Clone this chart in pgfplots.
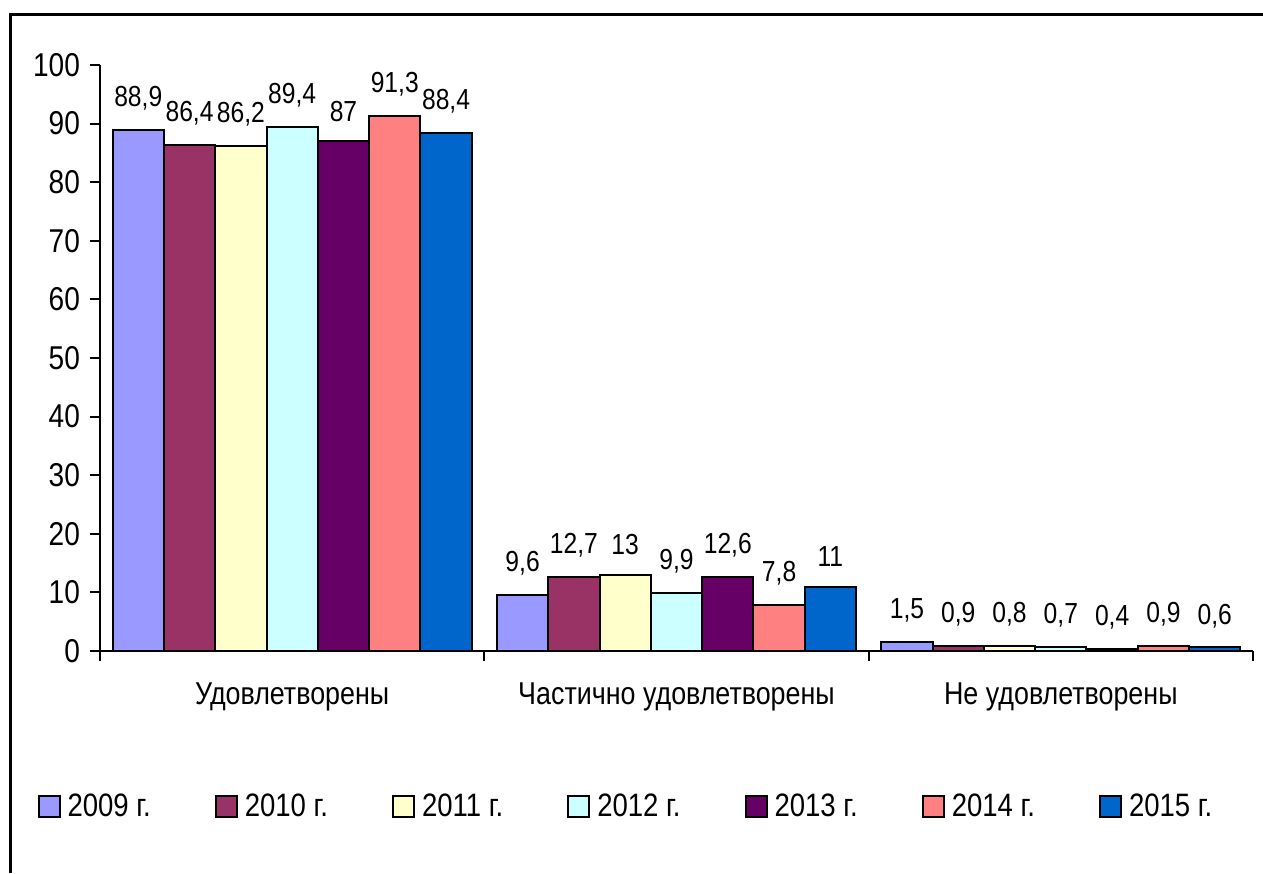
\documentclass[border=0pt]{standalone}
\usepackage{fontspec}
\setmainfont{Liberation Sans}[FakeStretch=0.85]
\usepackage{pgfplots}
\pgfplotsset{compat=1.18}
\definecolor{c1}{HTML}{9999FF}
\definecolor{c2}{HTML}{993366}
\definecolor{c3}{HTML}{FFFFCC}
\definecolor{c4}{HTML}{CCFFFF}
\definecolor{c5}{HTML}{660066}
\definecolor{c6}{HTML}{FF8080}
\definecolor{c7}{HTML}{0066CC}
\begin{document}
\begin{tikzpicture}[x=1pt,y=1pt]
\useasboundingbox (0,0) rectangle (631.5,436.5);
\draw[line width=1.5pt] (5,0) -- (5,429) -- (631.5,429);
\begin{axis}[
  at={(50pt,111pt)}, anchor=south west,
  scale only axis, width=576.5pt, height=293pt,
  ymin=0, ymax=100, ytick={0,10,...,100},
  xmin=-0.5, xmax=2.5,
  axis x line*=bottom, axis y line*=left,
  axis line style={line width=1pt},
  tick style={line width=1pt, black},
  tick align=outside, major tick length=5pt,
  /pgf/number format/assume math mode=true,
  /pgf/number format/use comma,
  /pgf/number format/fixed,
  /pgf/number format/precision=1,
  ybar=0pt, bar width=25.65pt,
  xtick={-0.5,0.5,1.5,2.5}, xticklabels={},
  extra x ticks={0,1,2},
  extra x tick labels={Удовлетворены, Частично удовлетворены, Не удовлетворены},
  extra x tick style={major tick length=0pt, xticklabel style={yshift=-12.5pt, font=\fontsize{15.8}{18}\selectfont}},
  yticklabel style={font=\fontsize{16.5}{19}\selectfont, xshift=-1.5pt},
  nodes near coords,
  every node near coord/.append style={font=\fontsize{14.5}{17}\selectfont, yshift=6pt, black},
  every axis plot/.append style={draw=black, line width=1pt},
  legend columns=7,
  legend style={draw=none, at={(0.457,-0.266)}, anchor=center,
    font=\fontsize{16.2}{19}\selectfont,
    /tikz/every even column/.append style={column sep=30pt}},
  legend image code/.code={\draw[#1, line width=1pt] (0pt,-5.25pt) rectangle (10.5pt,5.25pt); \path (12pt,0pt);},
]
\addplot[fill=c1] coordinates {(0,88.9) (1,9.6) (2,1.5)};
\addplot[fill=c2] coordinates {(0,86.4) (1,12.7) (2,0.9)};
\addplot[fill=c3] coordinates {(0,86.2) (1,13) (2,0.8)};
\addplot[fill=c4] coordinates {(0,89.4) (1,9.9) (2,0.7)};
\addplot[fill=c5] coordinates {(0,87) (1,12.6) (2,0.4)};
\addplot[fill=c6] coordinates {(0,91.3) (1,7.8) (2,0.9)};
\addplot[fill=c7] coordinates {(0,88.4) (1,11) (2,0.6)};
\legend{2009 г., 2010 г., 2011 г., 2012 г., 2013 г., 2014 г., 2015 г.}
\end{axis}
\end{tikzpicture}
\end{document}
